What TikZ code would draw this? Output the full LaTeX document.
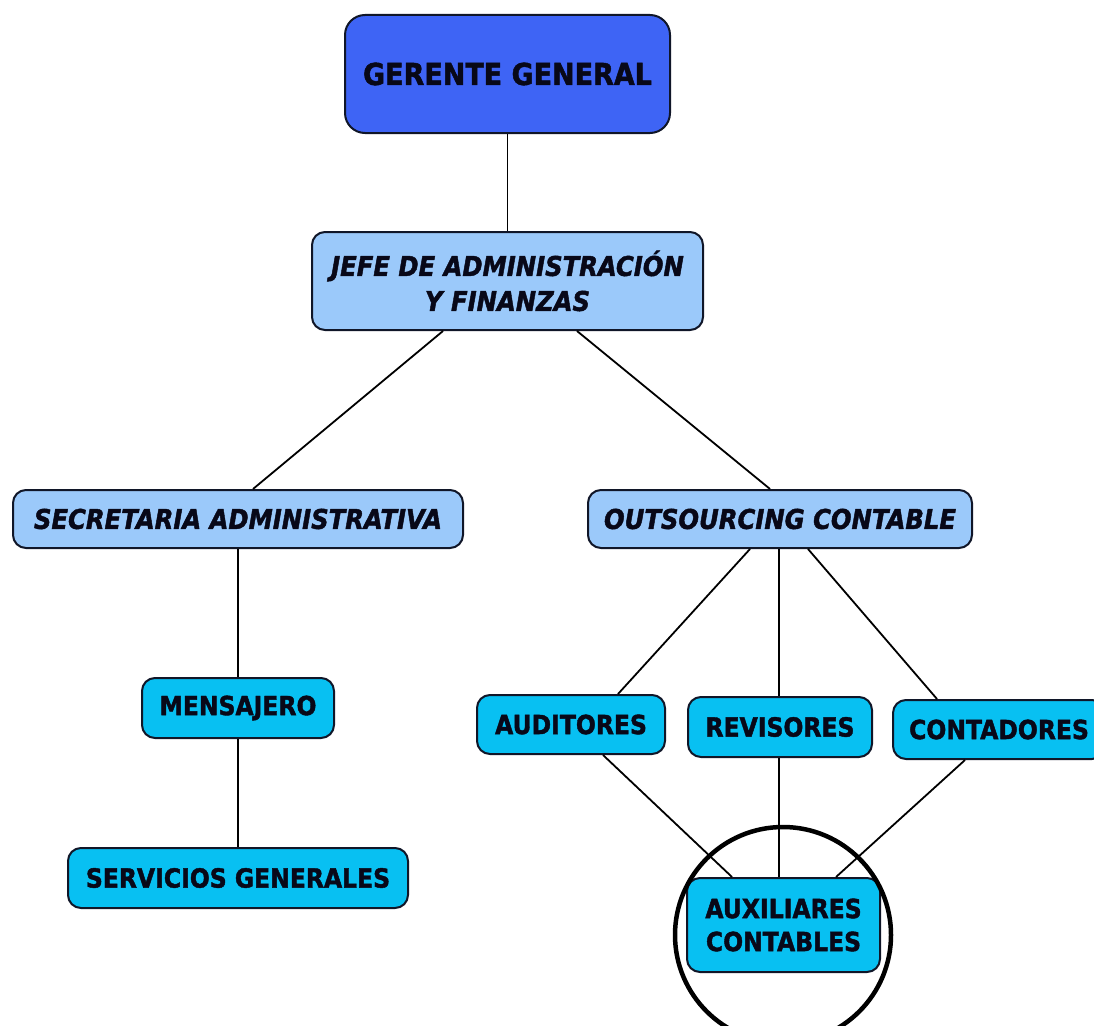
\documentclass[tikz,border=0pt]{standalone}
\usepackage{fontspec}
\setmainfont{DejaVu Sans}[FakeStretch=0.893,BoldFeatures={FakeBold=1.6},BoldItalicFeatures={FakeBold=1.6}]
\usetikzlibrary{calc}
\definecolor{topblue}{RGB}{62,100,245}
\definecolor{lightblue}{RGB}{155,201,250}
\definecolor{cyanbox}{RGB}{8,192,242}
\definecolor{edgedark}{RGB}{16,22,40}
\definecolor{textdark}{RGB}{8,8,24}
\begin{document}
\begin{tikzpicture}[x=1pt,y=-1pt,
  box/.style={draw=edgedark,line width=2pt,rounded corners=13pt,inner sep=0pt,align=center,text=textdark},
  topbox/.style={box,fill=topblue,rounded corners=20pt,font=\bfseries\fontsize{30.2}{34}\selectfont},
  midbox/.style={box,fill=lightblue,font=\bfseries\itshape\fontsize{27.2}{35}\selectfont},
  lowbox/.style={box,fill=cyanbox,font=\bfseries\fontsize{26.3}{33}\selectfont},
  link/.style={draw=black,line width=1.8pt},
  ring/.style={draw=black,line width=4.5pt}]
\useasboundingbox (0,0) rectangle (1094,1025);
\clip (0,0) rectangle (1094,1025);
\fill[white] (0,0) rectangle (1094,1025);

\node[topbox,minimum width=325pt,minimum height=118pt] (ger) at (507.5,74) {GERENTE GENERAL};
\node[midbox,minimum width=391pt,minimum height=98pt] (jefe) at (507.5,281) {JEFE DE ADMINISTRACIÓN\\Y FINANZAS};
\node[midbox,minimum width=450pt,minimum height=58pt] (sec) at (238,519) {SECRETARIA ADMINISTRATIVA};
\node[midbox,minimum width=384pt,minimum height=58pt] (out) at (780,519) {OUTSOURCING CONTABLE};
\node[lowbox,minimum width=192pt,minimum height=60pt] (men) at (238,708) {MENSAJERO};
\node[lowbox,minimum width=340pt,minimum height=60pt] (serv) at (238,878) {SERVICIOS GENERALES};
\node[lowbox,minimum width=188pt,minimum height=59pt] (aud) at (571,724.5) {AUDITORES};
\node[lowbox,minimum width=184pt,minimum height=60pt] (rev) at (780,727) {REVISORES};
\node[lowbox,minimum width=212pt,minimum height=59pt] (con) at (999,729.5) {CONTADORES};
\node[lowbox,minimum width=193pt,minimum height=94pt] (aux) at (783.5,925) {AUXILIARES\\CONTABLES};

\draw[link] (ger.south) -- (jefe.north);
\draw[link] ($(jefe.south)+(-64.5,0)$) -- ($(sec.north)+(15,0)$);
\draw[link] ($(jefe.south)+(69.5,0)$) -- ($(out.north)+(-10,0)$);
\draw[link] (sec.south) -- (men.north);
\draw[link] (men.south) -- (serv.north);
\draw[link] ($(out.south)+(-30,0)$) -- ($(aud.north)+(47,0)$);
\draw[link] ($(out.south)+(-1,0)$) -- ($(rev.north)+(-1,0)$);
\draw[link] ($(out.south)+(28,0)$) -- ($(con.north)+(-62,0)$);
\draw[link] ($(aud.south)+(32,0)$) -- ($(aux.north)+(-51.5,0)$);
\draw[link] ($(rev.south)+(-1,0)$) -- ($(aux.north)+(-4.5,0)$);
\draw[link] ($(con.south)+(-34,0)$) -- ($(aux.north)+(52.5,0)$);

\node[ring,circle,minimum size=216pt,inner sep=0pt] (circ) at (783,935) {};
\end{tikzpicture}
\end{document}
